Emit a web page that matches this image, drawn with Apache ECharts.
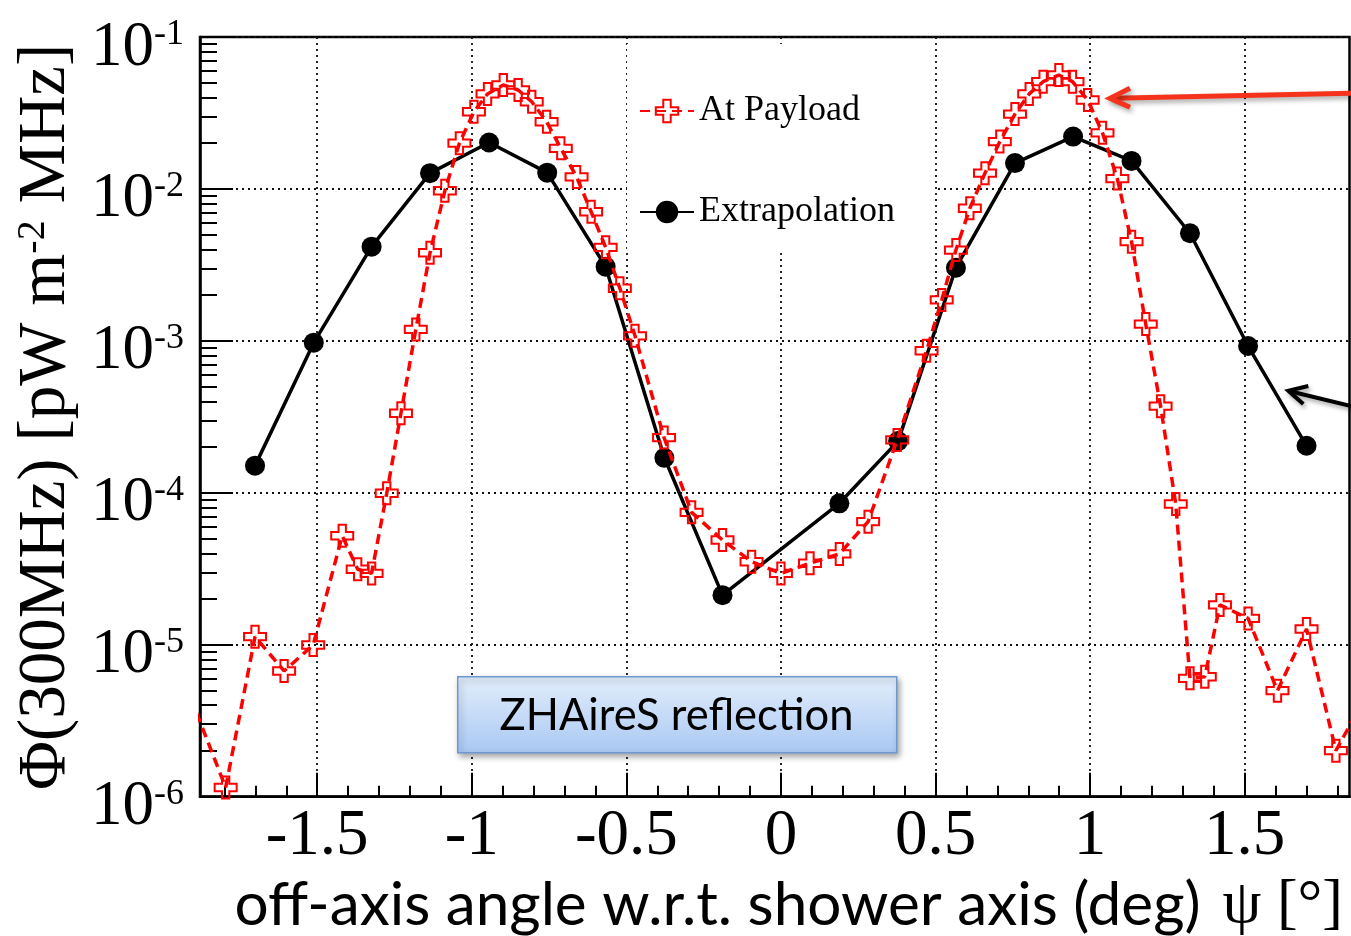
<!DOCTYPE html>
<html>
<head>
<meta charset="utf-8">
<script src="https://cdn.jsdelivr.net/npm/echarts@6/dist/echarts.min.js"></script>
<style>
html,body{margin:0;padding:0;background:#fff;}
#chart{width:1351px;height:936px;}
</style>
</head>
<body>
<div id="chart"></div>
<script>
// ---- data ----
const payloadX = [-1.890, -1.796, -1.701, -1.607, -1.513, -1.419, -1.369, -1.324, -1.275, -1.229,
  -1.181, -1.135, -1.087, -1.040, -0.993, -0.949, -0.898, -0.850, -0.806, -0.758,
  -0.712, -0.661, -0.614, -0.567, -0.521, -0.472, -0.378, -0.289, -0.189, -0.095,
  0.000, 0.094, 0.189, 0.282, 0.376, 0.471, 0.520, 0.566, 0.611, 0.660,
  0.708, 0.757, 0.803, 0.848, 0.899, 0.943, 0.992, 1.040, 1.088, 1.134,
  1.180, 1.228, 1.277, 1.323, 1.371, 1.420, 1.511, 1.606, 1.700, 1.795, 1.889];
const payloadY = [3.56e-6, 1.15e-6, 1.13e-5, 6.72e-6, 9.96e-6, 5.22e-5, 3.14e-5, 2.95e-5, 9.93e-5, 3.34e-4,
  1.19e-3, 3.80e-3, 9.73e-3, 2.00e-2, 3.22e-2, 4.22e-2, 4.83e-2, 4.48e-2, 3.75e-2, 2.77e-2,
  1.85e-2, 1.20e-2, 7.08e-3, 4.13e-3, 2.22e-3, 1.08e-3, 2.31e-4, 7.44e-5, 4.89e-5, 3.52e-5,
  2.95e-5, 3.44e-5, 3.96e-5, 6.46e-5, 2.23e-4, 8.61e-4, 1.86e-3, 3.96e-3, 7.46e-3, 1.27e-2,
  2.05e-2, 3.11e-2, 4.22e-2, 5.08e-2, 5.62e-2, 5.08e-2, 3.85e-2, 2.34e-2, 1.17e-2, 4.50e-3,
  1.29e-3, 3.72e-4, 8.44e-5, 6.01e-6, 6.16e-6, 1.83e-5, 1.49e-5, 4.99e-6, 1.27e-5, 2.01e-6, 4.47e-6];

const extrapX = [-1.701, -1.511, -1.324, -1.135, -0.944, -0.756, -0.567, -0.377, -0.189,
  0.189, 0.379, 0.566, 0.757, 0.945, 1.134, 1.323, 1.511, 1.700];
const extrapY = [1.51e-4, 9.73e-4, 4.17e-3, 1.27e-2, 2.02e-2, 1.28e-2, 3.08e-3, 1.70e-4, 2.12e-5,
  8.53e-5, 2.19e-4, 3.03e-3, 1.48e-2, 2.21e-2, 1.53e-2, 5.11e-3, 9.25e-4, 2.04e-4];

const seriesNames = ['At Payload', 'Extrapolation'];

// axis ranges and ticks
const xMin = -1.879, xMax = 1.839;
const yMin = 1e-6, yMax = 1e-1;
const xMajorTicks = [-1.5, -1, -0.5, 0, 0.5, 1, 1.5];
const xMinorTicks = [-1.8, -1.7, -1.6, -1.4, -1.3, -1.2, -1.1, -0.9, -0.8, -0.7, -0.6,
  -0.4, -0.3, -0.2, -0.1, 0.1, 0.2, 0.3, 0.4, 0.6, 0.7, 0.8, 0.9, 1.1, 1.2, 1.3, 1.4, 1.6, 1.7, 1.8];
const yDecadeExps = [-6, -5, -4, -3, -2, -1];
const yMinorMantissas = [2, 3, 4, 5, 6, 7, 8, 9];

const xTitle = 'off-axis angle w.r.t. shower axis (deg)';
const xTitleSym = 'ψ [°]';
const yTitleA = 'Φ(300MHz) [pW m';
const yTitleSup = '-2';
const yTitleB = ' MHz]';
const boxLabel = 'ZHAireS reflection';

// ---- build ----
const yMinorLogTicks = [];
yDecadeExps.slice(0, -1).forEach(e => yMinorMantissas.forEach(m => yMinorLogTicks.push(e + Math.log10(m))));

const pairs = (xs, ys) => xs.map((x, i) => [x, ys[i]]);
const crossPath = 'path://M1,0H2V1H3V2H2V3H1V2H0V1H1Z';
const SERIF = '"Liberation Serif", "Times New Roman", serif';
const SANS = 'Lato, "Open Sans", sans-serif';
const dotted = {color: '#111', width: 1.8, type: [2, 4]};

const chart = echarts.init(document.getElementById('chart'), null, {renderer: 'canvas'});
chart.setOption({
  backgroundColor: '#fff',
  animation: false,
  grid: {left: 200, right: 1.5, top: 37, bottom: 139.3, show: true, borderColor: '#000', borderWidth: 2.5,
    backgroundColor: 'transparent', containLabel: false, outerBoundsMode: 'none'},
  legend: {
    orient: 'vertical', left: 627, top: 44, itemWidth: 54, itemHeight: 28, itemGap: 65,
    padding: [49, 40, 20, 12],
    backgroundColor: '#fff',
    data: seriesNames,
    textStyle: {fontFamily: SERIF, fontSize: 36, color: '#000'}
  },
  xAxis: [{
    type: 'value', min: xMin, max: xMax, position: 'bottom',
    axisLine: {show: true, onZero: false, lineStyle: {color: '#000', width: 2.5}},
    axisTick: {show: true, inside: true, length: 24, customValues: xMajorTicks, lineStyle: {color: '#000', width: 2}},
    axisLabel: {customValues: xMajorTicks, margin: 8, fontFamily: SERIF, fontSize: 65, color: '#000',
      formatter: v => String(v)},
    splitLine: {show: true, lineStyle: dotted},
    name: '{a|' + xTitle + '}{p|' + xTitleSym + '}',
    nameLocation: 'middle', nameGap: 67,
    nameTextStyle: {padding: [0, 0, 0, 28], rich: {
      a: {fontFamily: SANS, fontSize: 60.3, color: '#000'},
      p: {fontFamily: SERIF, fontSize: 62, color: '#000', padding: [0, 0, 0, 22]}
    }}
  }, {
    type: 'value', min: xMin, max: xMax, position: 'bottom',
    axisLine: {show: false, onZero: false},
    axisTick: {show: true, inside: true, length: 11, customValues: xMinorTicks, lineStyle: {color: '#000', width: 2}},
    axisLabel: {show: false}, splitLine: {show: false}
  }],
  yAxis: [{
    type: 'log', logBase: 10, min: yMin, max: yMax, position: 'left',
    axisLine: {show: true, onZero: false, lineStyle: {color: '#000', width: 2.5}},
    axisTick: {show: true, inside: true, length: 33, lineStyle: {color: '#000', width: 2}},
    axisLabel: {margin: 16, padding: [22, 0, 0, 0],
      formatter: v => '{b|10}{s|' + Math.round(Math.log10(v)) + '}',
      rich: {
        b: {fontFamily: SERIF, fontSize: 63, color: '#000'},
        s: {fontFamily: SERIF, fontSize: 36, lineHeight: 24, verticalAlign: 'top', color: '#000'}
      }},
    splitLine: {show: true, lineStyle: dotted},
    minorTick: {show: false},
    name: '{t|' + yTitleA + '}{s|' + yTitleSup + '}{t|' + yTitleB + '}',
    nameLocation: 'middle', nameRotate: 90, nameGap: 118,
    nameTextStyle: {rich: {
      t: {fontFamily: SERIF, fontSize: 67, color: '#000'},
      s: {fontFamily: SERIF, fontSize: 40, lineHeight: 26, verticalAlign: 'top', color: '#000'}
    }}
  }, {
    type: 'value', min: -6, max: -1, position: 'left',
    axisLine: {show: false, onZero: false},
    axisTick: {show: true, inside: true, length: 17, customValues: yMinorLogTicks, lineStyle: {color: '#000', width: 2}},
    axisLabel: {show: false}, splitLine: {show: false}
  }],
  series: [{
    name: seriesNames[1], type: 'line', xAxisIndex: 0, yAxisIndex: 0,
    data: pairs(extrapX, extrapY),
    symbol: 'circle', symbolSize: 20,
    lineStyle: {color: '#000', width: 3.5},
    itemStyle: {color: '#000'},
    z: 3
  }, {
    name: seriesNames[0], type: 'line', xAxisIndex: 0, yAxisIndex: 0,
    data: pairs(payloadX, payloadY),
    symbol: crossPath, symbolSize: 22,
    lineStyle: {color: '#ff0000', width: 3.5, type: [10, 6]},
    itemStyle: {color: 'rgba(255,255,255,0)', borderColor: '#ff0000', borderWidth: 2},
    z: 4
  }],
  graphic: [
    {type: 'rect', left: 457, top: 676, z: 50,
      shape: {width: 439, height: 76},
      style: {fill: new echarts.graphic.LinearGradient(0, 0, 0, 1, [
          {offset: 0, color: '#e3eefc'}, {offset: 1, color: '#a9c8f3'}]),
        stroke: '#6d98d0', lineWidth: 1.5,
        shadowBlur: 6, shadowOffsetX: 2, shadowOffsetY: 3, shadowColor: 'rgba(0,0,0,0.35)'}},
    {type: 'text', x: 676.5, y: 716, z: 51,
      style: {text: boxLabel, fontFamily: SANS, fontSize: 43.5, fill: '#000', align: 'center', verticalAlign: 'middle'}},
    // red arrow
    {type: 'line', z: 60, shape: {x1: 1351, y1: 93.3, x2: 1113, y2: 98.2},
      style: {stroke: '#f5331c', lineWidth: 5, shadowBlur: 5, shadowOffsetX: 2, shadowOffsetY: 3, shadowColor: 'rgba(0,0,0,0.35)'}},
    {type: 'polyline', z: 60, shape: {points: [[1130, 88.3], [1110, 98.3], [1130, 107.3]]},
      style: {stroke: '#f5331c', lineWidth: 5, lineJoin: 'miter', fill: null, shadowBlur: 5, shadowOffsetX: 2, shadowOffsetY: 3, shadowColor: 'rgba(0,0,0,0.35)'}},
    // black arrow
    {type: 'line', z: 60, shape: {x1: 1351, y1: 406, x2: 1291, y2: 391.5},
      style: {stroke: '#000', lineWidth: 4, shadowBlur: 4, shadowOffsetX: 2, shadowOffsetY: 3, shadowColor: 'rgba(0,0,0,0.35)'}},
    {type: 'polyline', z: 60, shape: {points: [[1308.3, 386], [1288.3, 390.7], [1303.3, 404]]},
      style: {stroke: '#000', lineWidth: 4, lineJoin: 'miter', fill: null, shadowBlur: 4, shadowOffsetX: 2, shadowOffsetY: 3, shadowColor: 'rgba(0,0,0,0.35)'}}
  ]
});
</script>
</body>
</html>
